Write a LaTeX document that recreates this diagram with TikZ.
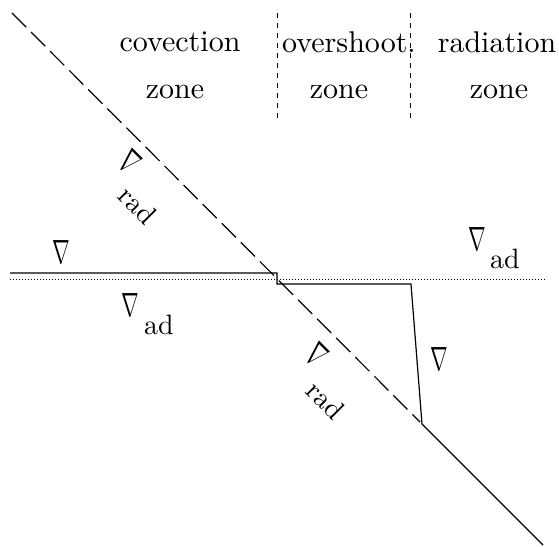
\documentclass[tikz,border=0pt]{standalone}
\usepackage{graphicx}
\newcommand{\bigtxt}[1]{\scalebox{3}{\fontsize{10}{12}\selectfont #1}}
\newcommand{\subtxt}[1]{\scalebox{2.8}{\fontsize{10}{12}\selectfont #1}}
\newcommand{\nabl}{\scalebox{0.85}[1.35]{$\nabla$}}
\begin{document}
\begin{tikzpicture}[x=1pt,y=-1pt,
  lbl/.style={inner sep=0pt},
  nab/.style={inner sep=0pt,font=\fontsize{30}{32}\selectfont},
  prof/.style={line width=1.2pt,line join=miter},
  radline/.style={line width=1.2pt,dash pattern=on 20pt off 7pt},
  zoneline/.style={line width=1pt,dash pattern=on 5pt off 5pt},
  adline/.style={line width=1pt,dash pattern=on 1pt off 2pt}]
\useasboundingbox (0,0) rectangle (559,546);
% coordinates
\coordinate (r0) at (12,13);
\coordinate (r1) at (420,422);
\coordinate (a0) at (10,279);
\coordinate (a1) at (545,279);
\coordinate (p0) at (10,273);
\coordinate (p1) at (277,273);
\coordinate (p2) at (277,284);
\coordinate (p3) at (411,284);
\coordinate (p4) at (422,424);
\coordinate (p5) at (543,545);
\coordinate (z1a) at (277,13);
\coordinate (z1b) at (277,120);
\coordinate (z2a) at (410,13);
\coordinate (z2b) at (410,120);
% lines
\draw[radline] (r0) -- (r1);
\draw[adline] (a0) -- (a1);
\draw[prof] (p0) -- (p1) -- (p2) -- (p3) -- (p4) -- (p5);
\draw[zoneline] (z1a) -- (z1b);
\draw[zoneline] (z2a) -- (z2b);
% zone labels
\node[lbl] (t1) at (180,42) {\bigtxt{covection}};
\node[lbl] (t2) at (175,92) {\bigtxt{zone}};
\node[lbl] (t3) at (349,42) {\bigtxt{overshoot.}};
\node[lbl] (t4) at (339,92) {\bigtxt{zone}};
\node[lbl] (t5) at (497,42) {\bigtxt{radiation}};
\node[lbl] (t6) at (499,92) {\bigtxt{zone}};
% gradient labels
\node[nab] (n1) at (61,252) {\nabl};
\node[nab] (n2) at (130,305) {\nabl};
\node[lbl] (s2) at (159,325) {\subtxt{ad}};
\node[nab] (n3) at (477,239) {\nabl};
\node[lbl] (s3) at (505,259) {\subtxt{ad}};
\node[nab] (n4) at (439,359) {\nabl};
\node[nab,rotate=-45] (n5) at (130,162) {\nabl};
\node[lbl,rotate=-45] (s5) at (138,205) {\subtxt{rad}};
\node[nab,rotate=-45] (n6) at (317,355) {\nabl};
\node[lbl,rotate=-45] (s6) at (326,400) {\subtxt{rad}};
\end{tikzpicture}
\end{document}
